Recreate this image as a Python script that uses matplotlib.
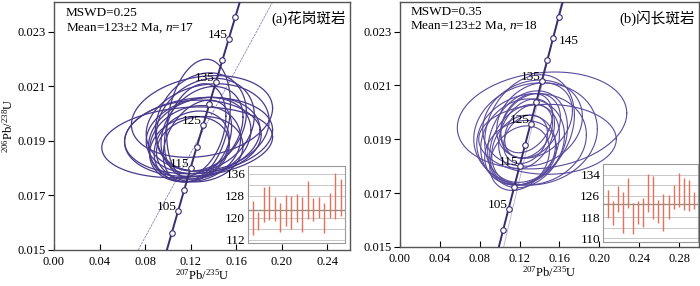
import numpy as np
import matplotlib
matplotlib.use("Agg")
from matplotlib import pyplot as plt

plt.rcParams['font.family'] = ['Liberation Serif', 'Noto Sans CJK SC']
plt.rcParams['mathtext.fontset'] = 'custom'
plt.rcParams['mathtext.rm'] = 'Liberation Serif'
plt.rcParams['mathtext.it'] = 'Liberation Serif:italic'
plt.rcParams['font.size'] = 9

# decay constants (1/Ma)
l238 = 1.55125e-4
l235 = 9.8485e-4

# ellipse data: center x, center y, half extent x, half extent y, rho
a_cx = [0.117, 0.127, 0.130, 0.127, 0.128, 0.124, 0.130, 0.121, 0.133, 0.126, 0.119, 0.131, 0.124, 0.129, 0.122, 0.128, 0.135]
a_cy = [0.01895, 0.0198, 0.0199, 0.0192, 0.0191, 0.0189, 0.0194, 0.0188, 0.0196, 0.0190, 0.0187, 0.0192, 0.0194, 0.0197, 0.0191, 0.0187, 0.0195]
a_sx = [0.075, 0.028, 0.062, 0.065, 0.045, 0.040, 0.036, 0.033, 0.043, 0.030, 0.035, 0.050, 0.027, 0.040, 0.060, 0.038, 0.054]
a_sy = [0.0013, 0.0022, 0.0015, 0.0014, 0.0015, 0.0014, 0.0016, 0.0013, 0.0017, 0.0015, 0.0012, 0.0014, 0.0017, 0.0018, 0.0014, 0.0012, 0.0016]
a_rho = [0.15, 0.25, 0.2, 0.15, 0.2, 0.15, 0.3, 0.2, 0.2, 0.35, 0.15, 0.15, 0.3, 0.2, 0.1, 0.1, 0.15]

b_cx = [0.1425, 0.148, 0.130, 0.128, 0.133, 0.125, 0.127, 0.131, 0.124, 0.129, 0.126, 0.135, 0.121, 0.132, 0.127, 0.123, 0.136, 0.120]
b_cy = [0.0197, 0.0190, 0.0194, 0.0190, 0.0196, 0.0188, 0.0192, 0.0195, 0.0186, 0.0193, 0.0190, 0.0197, 0.0185, 0.0190, 0.0196, 0.0189, 0.0192, 0.0183]
b_sx = [0.085, 0.069, 0.045, 0.040, 0.050, 0.035, 0.028, 0.030, 0.032, 0.024, 0.022, 0.038, 0.036, 0.055, 0.026, 0.042, 0.062, 0.030]
b_sy = [0.0018, 0.0013, 0.0020, 0.0018, 0.0016, 0.0015, 0.0013, 0.0012, 0.0013, 0.0010, 0.0009, 0.0014, 0.0012, 0.0017, 0.0011, 0.0016, 0.0019, 0.0012]
b_rho = [0.15, 0.0, 0.25, 0.25, 0.15, 0.25, 0.3, 0.25, 0.15, 0.3, 0.25, 0.25, 0.15, 0.1, 0.3, 0.15, 0.1, 0.25]

# inset ages (Ma) and errors
a_age = [120.0, 119.0, 125.0, 125.5, 123.4, 120.2, 122.8, 122.0, 123.7, 121.2, 126.5, 123.0, 123.7, 120.0, 124.5, 128.0, 127.4]
a_err = [6.2, 3.3, 6.4, 6.2, 4.4, 5.2, 5.6, 6.0, 5.0, 6.4, 6.9, 4.2, 3.8, 5.4, 4.6, 8.3, 6.8]
b_age = [122.9, 119.6, 124.9, 119.8, 127.0, 117.5, 119.8, 119.7, 127.1, 125.3, 120.1, 119.8, 121.7, 125.5, 128.1, 126.6, 126.1, 124.1]
b_err = [5.4, 4.6, 4.9, 7.8, 5.7, 5.7, 4.4, 5.4, 7.1, 8.2, 4.3, 7.0, 4.6, 4.6, 6.4, 6.0, 5.7, 3.2]

mark_ages = [95, 100, 105, 110, 115, 120, 125, 130, 135, 140, 145, 150, 155]
label_ages = [105, 115, 125, 135, 145]

line_col = '#3b2c6e'
ell_col = '#4a3a8c'
bar_col = '#e8705a'

fig = plt.figure(figsize=(7.0, 2.86), dpi=100)
ax1 = fig.add_axes([0.0771, 0.1259, 0.4229, 0.8671])
ax2 = fig.add_axes([0.5714, 0.1364, 0.4272, 0.8566])


def concordia(ax, right145):
    t = np.linspace(85, 165, 300)
    ax.plot(np.exp(l235 * t) - 1, np.exp(l238 * t) - 1, color=line_col, lw=1.4, zorder=3)
    ma = np.array(mark_ages)
    ax.plot(np.exp(l235 * ma) - 1, np.exp(l238 * ma) - 1, 'o', ms=4, mfc='white',
            mec=line_col, mew=0.8, zorder=4)
    for age in label_ages:
        x = np.exp(l235 * age) - 1
        y = np.exp(l238 * age) - 1
        if right145 and age == 145:
            ax.annotate(str(age), (x, y), xytext=(4, -2), textcoords='offset points',
                        ha='left', va='center', fontsize=9.5, zorder=5)
        else:
            ax.annotate(str(age), (x, y), xytext=(-1, 3), textcoords='offset points',
                        ha='right', va='center', fontsize=9.5, zorder=5)


def ellipses(ax, cx, cy, sx, sy, rho, col, lw):
    t = np.linspace(0, 2 * np.pi, 200)
    for i in range(len(cx)):
        x = cx[i] + sx[i] * np.cos(t)
        y = cy[i] + sy[i] * (rho[i] * np.cos(t) + np.sqrt(1 - rho[i] ** 2) * np.sin(t))
        ax.plot(x, y, color=col, lw=lw, zorder=2)


def inset(rect, age, err, ylim, yt, grid):
    ins = fig.add_axes(rect)
    ins.set_facecolor('white')
    ins.set_zorder(6)
    for g in grid:
        ins.axhline(g, color='#c8c8c8', lw=0.7, zorder=0)
    ins.axhline(123, color='#8a9488', lw=1.0, zorder=1)
    idx = np.arange(len(age))
    ins.vlines(idx, np.array(age) - np.array(err), np.array(age) + np.array(err),
               color=bar_col, lw=1.0, zorder=2)
    ins.set_xlim(-0.9, len(age) - 0.2)
    ins.set_ylim(*ylim)
    ins.set_yticks(yt)
    ins.set_xticks([])
    ins.tick_params(axis='y', length=0, pad=2, labelsize=9.5)
    for s in ins.spines.values():
        s.set_color('#9a9a9a')
        s.set_linewidth(0.8)


# panel a
ellipses(ax1, a_cx, a_cy, a_sx, a_sy, a_rho, ell_col, 0.9)
ax1.plot([0.074, 0.192], [0.015, 0.0241], color='#8a82c0', lw=0.6, ls=(0, (3, 1)), zorder=1)
concordia(ax1, False)
ax1.set_xlim(0, 0.26)
ax1.set_ylim(0.015, 0.0241)
ax1.set_xticks([0.00, 0.04, 0.08, 0.12, 0.16, 0.20, 0.24])
ax1.set_yticks([0.015, 0.017, 0.019, 0.021, 0.023])
ax1.set_xlabel('$^{207}$Pb/$^{235}$U', labelpad=0)
ax1.set_ylabel('$^{206}$Pb/$^{238}$U', labelpad=1)
ax1.text(0.04, 0.955, 'MSWD=0.25', transform=ax1.transAxes, va='center', fontsize=9.5)
ax1.text(0.04, 0.895, 'Mean=123±2 Ma, $\\mathit{n}$=17', transform=ax1.transAxes, va='center', fontsize=9.5)
ax1.text(0.985, 0.935, '(a)花岗斑岩', transform=ax1.transAxes, ha='right', va='center', fontsize=10.5)

# panel b
ellipses(ax2, b_cx, b_cy, b_sx, b_sy, b_rho, '#5a4a9c', 0.8)
ax2.plot([0.104, 0.162], [0.015, 0.0241], color='#b8b2d8', lw=0.6, zorder=1)
concordia(ax2, True)
ax2.set_xlim(0, 0.30)
ax2.set_ylim(0.015, 0.0241)
ax2.set_xticks([0.00, 0.04, 0.08, 0.12, 0.16, 0.20, 0.24, 0.28])
ax2.set_yticks([0.015, 0.017, 0.019, 0.021, 0.023])
ax2.set_xlabel('$^{207}$Pb/$^{235}$U', labelpad=0)
ax2.text(0.035, 0.96, 'MSWD=0.35', transform=ax2.transAxes, va='center', fontsize=9.5)
ax2.text(0.035, 0.90, 'Mean=123±2 Ma, $\\mathit{n}$=18', transform=ax2.transAxes, va='center', fontsize=9.5)
ax2.text(0.985, 0.935, '(b)闪长斑岩', transform=ax2.transAxes, ha='right', va='center', fontsize=10.5)

for ax in (ax1, ax2):
    ax.xaxis.set_major_formatter(matplotlib.ticker.FormatStrFormatter('%.2f'))
    ax.yaxis.set_major_formatter(matplotlib.ticker.FormatStrFormatter('%.3f'))
    ax.tick_params(axis='x', direction='in', length=4, pad=4, labelsize=9)
    ax.tick_params(axis='y', direction='out', length=4, pad=2, labelsize=9)
    for s in ax.spines.values():
        s.set_color('#555555')
        s.set_linewidth(1.0)

inset([0.3543, 0.1503, 0.1386, 0.2692], a_age, a_err, (110.9, 138.9),
      [112, 120, 128, 136], [112, 116, 120, 128, 132, 136])
inset([0.8614, 0.1538, 0.1357, 0.2727], b_age, b_err, (108.6, 138.0),
      [110, 118, 126, 134], [110, 114, 118, 126, 130, 134])

fig.savefig('out.png', dpi=100)
